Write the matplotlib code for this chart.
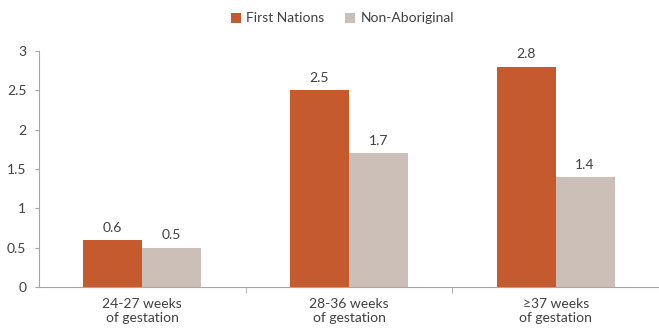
import numpy as np
import matplotlib
matplotlib.use('Agg')
import matplotlib.pyplot as plt

plt.rcParams['font.family'] = ['Lato', 'DejaVu Sans']

categories = ['24-27 weeks\nof gestation', '28-36 weeks\nof gestation', '\u226537 weeks\nof gestation']
first_nations = [0.6, 2.5, 2.8]
non_aboriginal = [0.5, 1.7, 1.4]

C_FN = '#C55A2E'
C_NA = '#CBBFB8'
AXIS = '#A6A6A6'
TXT = '#404040'

fig = plt.figure(figsize=(6.59, 3.33), dpi=100)
ax = fig.add_axes([0.059, 0.138, 0.941, 0.709])

x = np.arange(len(categories))
w = 0.285
b1 = ax.bar(x - w / 2, first_nations, w, color=C_FN, label='First Nations')
b2 = ax.bar(x + w / 2, non_aboriginal, w, color=C_NA, label='Non-Aboriginal')

for bars, vals in [(b1, first_nations), (b2, non_aboriginal)]:
    for r, v in zip(bars, vals):
        ax.text(r.get_x() + r.get_width() / 2, v + 0.08, f'{v:g}',
                ha='center', va='bottom', fontsize=10, color=TXT)

ax.set_xlim(-0.5, 2.5)
ax.set_ylim(0, 3)
ax.set_yticks(np.arange(0, 3.01, 0.5))
ax.set_yticklabels(['0', '0.5', '1', '1.5', '2', '2.5', '3'])

# category labels centred, tick marks at group boundaries
ax.set_xticks(x)
ax.set_xticklabels(categories, fontsize=10, color=TXT)
ax.tick_params(axis='x', length=0, pad=8)
ax.set_xticks([0.5, 1.5], minor=True)
ax.tick_params(axis='x', which='minor', length=4, color=AXIS)
ax.tick_params(axis='y', length=3, color=AXIS, labelsize=10, labelcolor=TXT, pad=6)

for s in ['top', 'right']:
    ax.spines[s].set_visible(False)
for s in ['left', 'bottom']:
    ax.spines[s].set_color(AXIS)
    ax.spines[s].set_linewidth(0.8)

fig.legend(handles=[b1, b2], loc='upper center', bbox_to_anchor=(0.52, 1.0),
           ncol=2, frameon=False, fontsize=10, handlelength=0.7, handleheight=0.7,
           columnspacing=1.5, handletextpad=0.4, labelcolor=TXT)

fig.savefig('out.png', dpi=100, facecolor='white')
